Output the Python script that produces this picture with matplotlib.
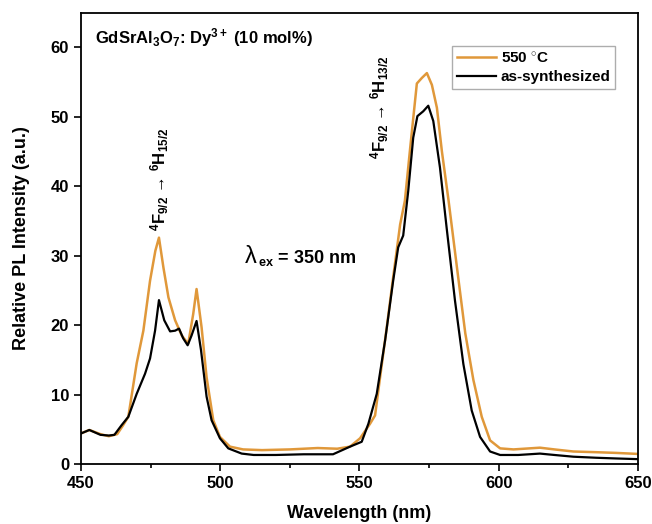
import matplotlib
matplotlib.use("Agg")
import matplotlib.pyplot as plt
from matplotlib.ticker import MultipleLocator

plt.rcParams['font.family'] = ['Liberation Sans', 'DejaVu Sans']
plt.rcParams['mathtext.fontset'] = 'custom'
plt.rcParams['mathtext.rm'] = 'Liberation Sans:bold'
plt.rcParams['mathtext.bf'] = 'Liberation Sans:bold'
plt.rcParams['mathtext.it'] = 'Liberation Sans:bold'

# as-synthesized
wl_as = [450, 453, 457, 460, 462, 464.6, 467, 470, 473, 474.8, 476.6, 478, 479.9, 482,
         483.8, 485.2, 486.7, 488.3, 489.7, 491.5, 493.1, 495.1, 496.9, 499.9, 502.9,
         507.7, 512, 520, 530, 540.5, 546.6, 550.8, 553.2, 556.2, 559.2, 562.1, 563.9,
         565.7, 567.5, 569.3, 570.8, 572.9, 574.7, 576.5, 578.9, 581.3, 584.3, 587.3,
         590.3, 593.3, 596.9, 600.5, 607, 614.8, 620, 626.8, 635, 642, 650]
pl_as = [4.4, 4.9, 4.2, 4.1, 4.2, 5.6, 6.8, 10.1, 13.0, 15.2, 19.2, 23.6, 20.7, 19.1,
         19.2, 19.5, 18.1, 17.1, 18.5, 20.6, 16.4, 9.7, 6.3, 3.7, 2.25,
         1.5, 1.3, 1.3, 1.4, 1.4, 2.5, 3.2, 5.8, 10.1, 17.8, 26.4, 31.2,
         32.9, 39.3, 47.0, 50.1, 50.8, 51.6, 49.4, 42.7, 34.0, 23.5, 14.4,
         7.7, 3.9, 1.8, 1.3, 1.3, 1.5, 1.3, 1.05, 0.9, 0.8, 0.7]

# 550 C
wl_550 = [450, 453, 457, 460, 463, 465, 467, 470, 472.4, 474.8, 476.7, 478, 479.6, 481.4,
          483.8, 486.2, 488.5, 490.3, 491.5, 493.3, 495.1, 497.5, 499.9, 503.5, 508.2,
          515, 525, 535, 542, 546.6, 550.2, 553.8, 555.6, 557.4, 559.8, 562.1, 564.6,
          566.3, 568.2, 570.6, 572.4, 574.2, 576, 577.8, 579.6, 582, 585, 588, 590.9,
          593.9, 596.9, 600.5, 605.3, 614.8, 620, 626.8, 635, 642, 650]
pl_550 = [4.4, 4.9, 4.3, 4.0, 4.3, 5.5, 6.8, 14.5, 19.2, 26.4, 30.7, 32.6, 28.3, 24.0,
          20.7, 18.5, 17.3, 21.6, 25.2, 19.7, 12.5, 6.3, 3.9, 2.5, 2.1,
          2.0, 2.1, 2.3, 2.2, 2.5, 3.7, 5.8, 7.0, 12.5, 19.7, 26.9, 34.5,
          37.9, 45.5, 54.8, 55.6, 56.3, 54.6, 51.3, 45.0, 37.9, 28.3, 18.8, 12.1,
          6.8, 3.4, 2.25, 2.1, 2.35, 2.1, 1.8, 1.7, 1.6, 1.45]

x_ticks = [450, 500, 550, 600, 650]
y_ticks = [0, 10, 20, 30, 40, 50, 60]

fig = plt.figure(figsize=(6.52, 5.24), dpi=100)
ax = fig.add_axes([0.1242, 0.1145, 0.8543, 0.8613])

orange = '#E0983A'
ax.plot(wl_550, pl_550, color=orange, lw=1.8, label='550 $^{\\circ}$C')
ax.plot(wl_as, pl_as, color='black', lw=1.6, label='as-synthesized')

ax.set_xlim(450, 650)
ax.set_ylim(0, 65)
ax.set_xticks(x_ticks)
ax.set_yticks(y_ticks)
ax.xaxis.set_minor_locator(MultipleLocator(25))
ax.tick_params(axis='both', which='major', direction='out', length=5, width=1.2,
               labelsize=12, top=False, right=False)
ax.tick_params(axis='x', which='minor', direction='out', length=3, width=1.2, top=False)
for lab in ax.get_xticklabels() + ax.get_yticklabels():
    lab.set_fontweight('bold')
for s in ax.spines.values():
    s.set_linewidth(1.3)

ax.set_xlabel('Wavelength (nm)', fontsize=13, fontweight='bold', labelpad=10)
ax.set_ylabel('Relative PL Intensity (a.u.)', fontsize=13, fontweight='bold', labelpad=15)

leg = ax.legend(loc='upper right', bbox_to_anchor=(0.973, 0.942), frameon=True,
                fancybox=False, edgecolor='#999999', handlelength=2.6,
                prop={'weight': 'bold', 'size': 11}, borderpad=0.3, labelspacing=0.3,
                handletextpad=0.3)
leg.get_frame().set_linewidth(1.0)

ax.text(0.025, 0.97, 'GdSrAl$_3$O$_7$: Dy$^{3+}$ (10 mol%)', transform=ax.transAxes,
        fontsize=12, fontweight='bold', va='top', ha='left')

ax.text(0.294, 0.445, 'λ', transform=ax.transAxes, fontsize=17,
        fontweight='normal', va='baseline', ha='left')
ax.text(0.318, 0.445, '$_{ex}$ = 350 nm', transform=ax.transAxes,
        fontsize=13, fontweight='bold', va='baseline', ha='left')

ax.text(478.4, 33.6, '$^4$F$_{9/2}$ → $^6$H$_{15/2}$', rotation=90,
        fontsize=12, fontweight='bold', ha='center', va='bottom')
ax.text(557.4, 43.9, '$^4$F$_{9/2}$ → $^6$H$_{13/2}$', rotation=90,
        fontsize=12, fontweight='bold', ha='center', va='bottom')

fig.savefig('out.png', dpi=100)
